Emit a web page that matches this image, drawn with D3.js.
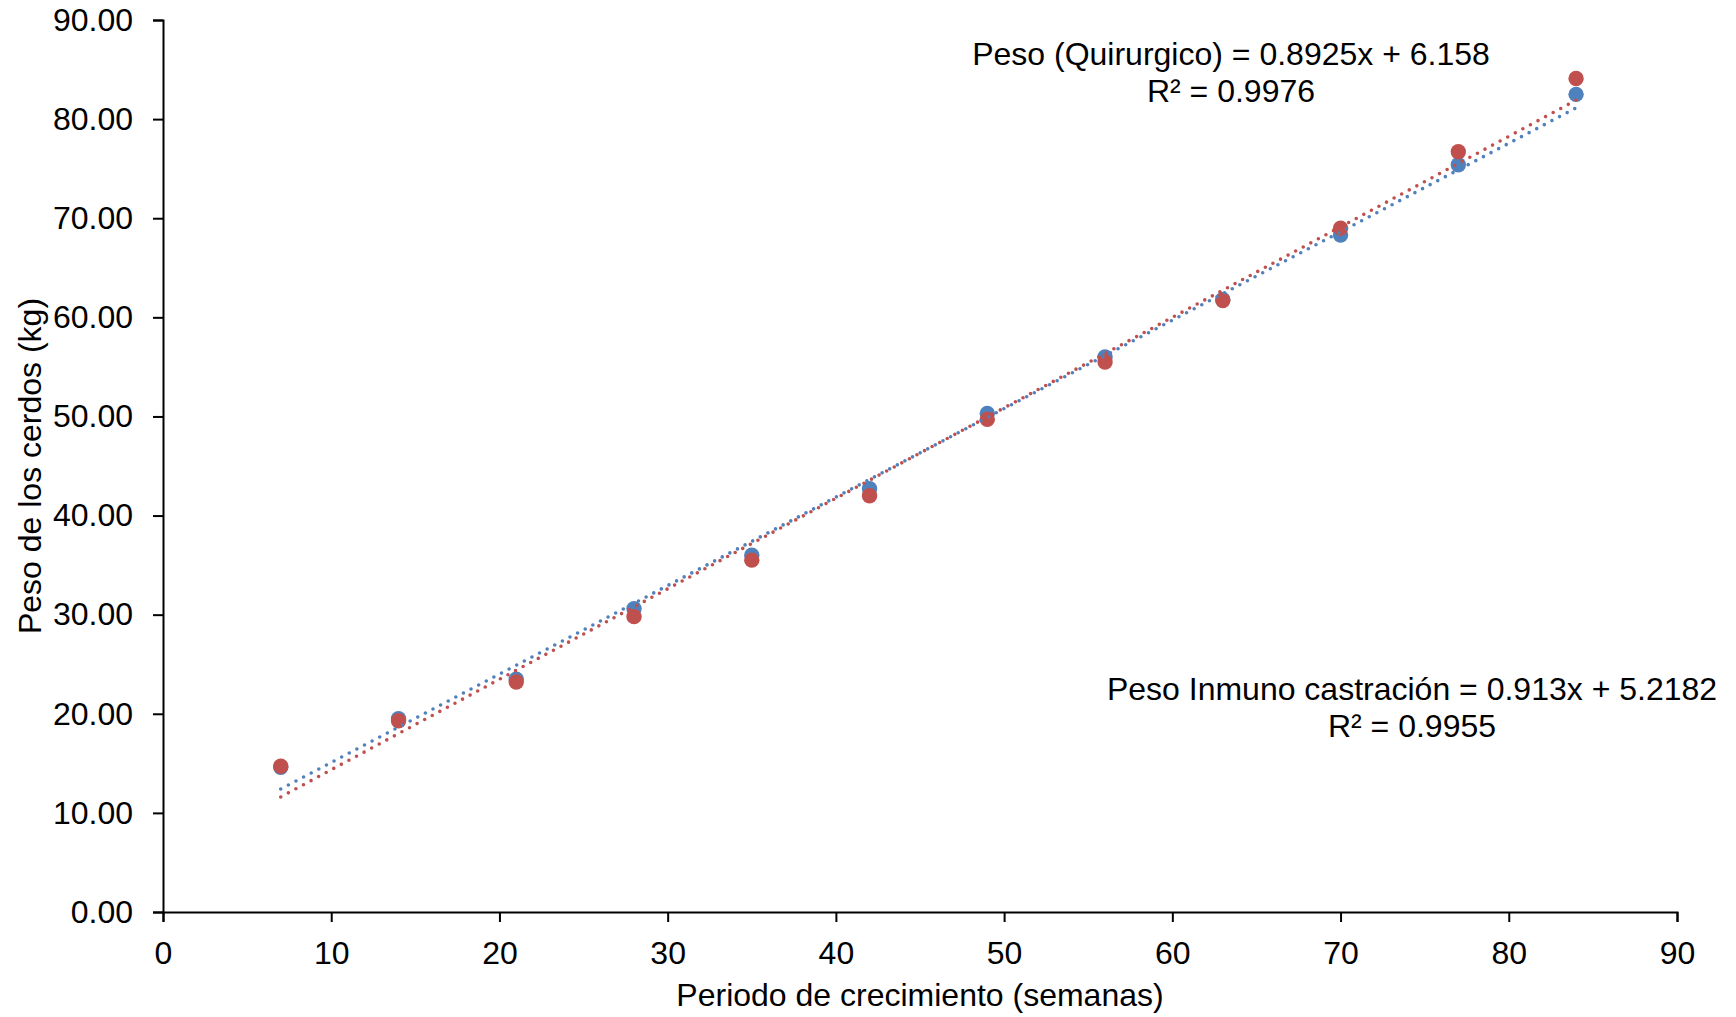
<!DOCTYPE html>
<html>
<head>
<meta charset="utf-8">
<script src="https://cdn.jsdelivr.net/npm/d3@7"></script>
<style>
  html, body { margin: 0; padding: 0; background: #fff; }
  text { font-family: "Liberation Sans", Arial, sans-serif; fill: #000; }
</style>
</head>
<body>
<svg id="chart" width="1736" height="1017"></svg>
<script>
// ---- data ----
const weeks = [7, 14, 21, 28, 35, 42, 49, 56, 63, 70, 77, 84];
const pesoQuirurgico = [14.6, 19.5, 23.5, 30.6, 36.0, 42.7, 50.3, 56.0, 61.8, 68.3, 75.4, 82.5];
const pesoInmuno = [14.7, 19.3, 23.2, 29.8, 35.5, 42.0, 49.7, 55.5, 61.7, 69.0, 76.7, 84.1];
const trendQuirurgico = { slope: 0.8925, intercept: 6.158 };
const trendInmuno = { slope: 0.913, intercept: 5.2182 };
const xTicks = [0, 10, 20, 30, 40, 50, 60, 70, 80, 90];
const yTicks = [0, 10, 20, 30, 40, 50, 60, 70, 80, 90];
const labelQuirurgico = ["Peso (Quirurgico) = 0.8925x + 6.158", "R² = 0.9976"];
const labelInmuno = ["Peso Inmuno castración = 0.913x + 5.2182", "R² = 0.9955"];
const xTitle = "Periodo de crecimiento (semanas)";
const yTitle = "Peso de los cerdos (kg)";

const colBlue = "#4F81BD", colRed = "#C0504D";
const FS = "32px";

const svg = d3.select("#chart");
const x = d3.scaleLinear().domain([0, 90]).range([163, 1677]);
const y = d3.scaleLinear().domain([0, 90]).range([912, 20]);

// axes
const gx = svg.append("g").attr("transform", `translate(0,${y(0)})`)
  .call(d3.axisBottom(x).tickValues(xTicks).tickSize(10).tickPadding(19).tickFormat(d3.format("d")));
const gy = svg.append("g").attr("transform", `translate(${x(0)},0)`)
  .call(d3.axisLeft(y).tickValues(yTicks).tickSize(10).tickPadding(20).tickFormat(d3.format(".2f")));
[gx, gy].forEach(g => {
  g.select(".domain").attr("stroke", "#000").attr("stroke-width", 2);
  g.selectAll(".tick line").attr("stroke", "#000").attr("stroke-width", 2);
  g.selectAll(".tick text").style("font-size", FS).style("font-family", "Liberation Sans, Arial, sans-serif").attr("fill", "#000");
});

// markers
const seriesDefs = [
  { vals: pesoQuirurgico, color: colBlue },
  { vals: pesoInmuno, color: colRed }
];
seriesDefs.forEach(s => {
  svg.append("g").selectAll("circle").data(weeks).join("circle")
    .attr("cx", d => x(d))
    .attr("cy", (d, i) => y(s.vals[i]))
    .attr("r", 7.7)
    .attr("fill", s.color);
});

// trend lines (dotted)
const x0 = d3.min(weeks), x1 = d3.max(weeks);
[{ t: trendQuirurgico, color: colBlue }, { t: trendInmuno, color: colRed }].forEach(s => {
  svg.append("line")
    .attr("x1", x(x0)).attr("y1", y(s.t.slope * x0 + s.t.intercept))
    .attr("x2", x(x1)).attr("y2", y(s.t.slope * x1 + s.t.intercept))
    .attr("stroke", s.color)
    .attr("stroke-width", 3.6)
    .attr("stroke-linecap", "round")
    .attr("stroke-dasharray", "0 8.6");
});

// equation labels
function eqLabel(lines, cx, y0) {
  const t = svg.append("text").attr("text-anchor", "middle").style("font-size", FS);
  lines.forEach((l, i) => t.append("tspan").attr("x", cx).attr("y", y0 + i * 37).text(l));
}
eqLabel(labelQuirurgico, 1231, 65);
eqLabel(labelInmuno, 1412, 700);

// axis titles
svg.append("text").attr("x", 920).attr("y", 1006).attr("text-anchor", "middle")
  .style("font-size", FS).text(xTitle);
svg.append("text").attr("transform", "translate(41,466) rotate(-90)").attr("text-anchor", "middle")
  .style("font-size", FS).text(yTitle);
</script>
</body>
</html>
